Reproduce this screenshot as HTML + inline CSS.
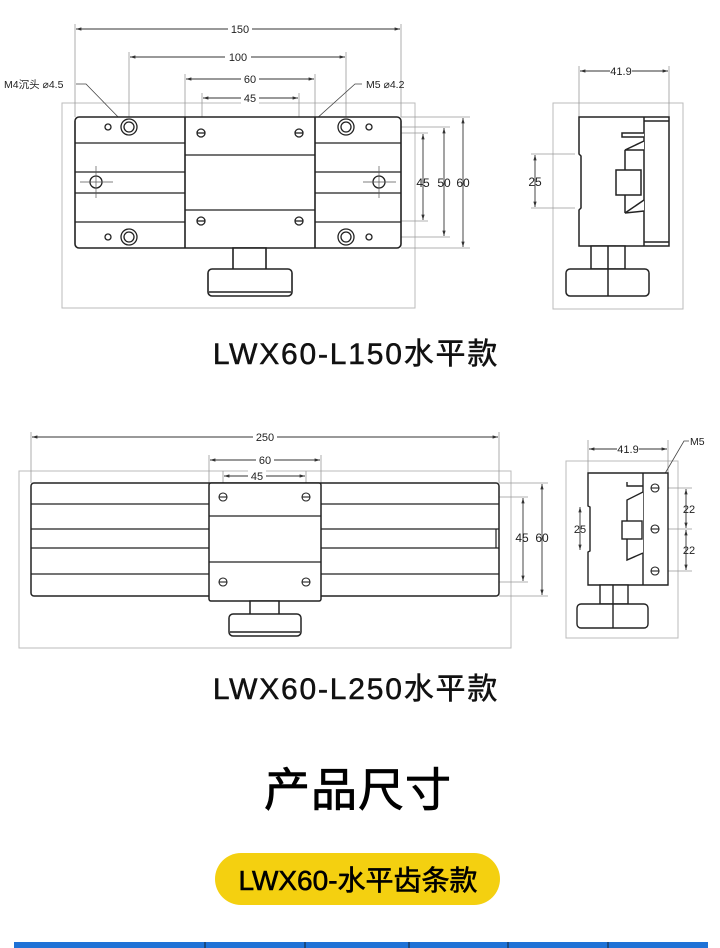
<!DOCTYPE html>
<html><head><meta charset="utf-8"><style>
html,body{margin:0;padding:0;background:#fff;}
svg{display:block;}
text{font-family:"Liberation Sans","DejaVu Sans",sans-serif;fill:#222;}
.cjk{font-family:"Liberation Sans","Noto Sans CJK SC",sans-serif;}
</style></head><body>
<svg width="720" height="948" viewBox="0 0 720 948" xmlns="http://www.w3.org/2000/svg">
<defs>
<marker id="a" viewBox="0 0 10 10" refX="10" refY="5" markerWidth="6" markerHeight="6" orient="auto-start-reverse"><path d="M0,2 L10,5 L0,8 z" fill="#333"/></marker>
</defs>
<!-- ===== TOP DRAWING ===== -->
<g stroke="#bbb" fill="none" stroke-width="1">
<rect x="62" y="103" width="353" height="205"/>
<rect x="553" y="103" width="130" height="206"/>
</g>
<g stroke="#999" stroke-width="0.8" fill="none">
<line x1="75" y1="24" x2="75" y2="117"/><line x1="401" y1="24" x2="401" y2="117"/>
<line x1="129" y1="52" x2="129" y2="120"/><line x1="346" y1="52" x2="346" y2="120"/>
<line x1="185" y1="74" x2="185" y2="117"/><line x1="315" y1="74" x2="315" y2="117"/>
<line x1="202" y1="93" x2="202" y2="128"/><line x1="299" y1="93" x2="299" y2="128"/>
<line x1="401" y1="117" x2="470" y2="117"/><line x1="401" y1="248" x2="470" y2="248"/>
<line x1="372" y1="127" x2="450" y2="127"/><line x1="372" y1="237" x2="450" y2="237"/>
<line x1="304" y1="133" x2="428" y2="133"/><line x1="304" y1="221" x2="428" y2="221"/>
<line x1="579" y1="66" x2="579" y2="117"/><line x1="669" y1="66" x2="669" y2="117"/>
<line x1="531" y1="154" x2="575" y2="154"/><line x1="531" y1="208" x2="575" y2="208"/>
</g>
<g stroke="#333" stroke-width="0.9" marker-start="url(#a)" marker-end="url(#a)">
<line x1="76" y1="29" x2="400" y2="29"/>
<line x1="130" y1="57" x2="345" y2="57"/>
<line x1="186" y1="79" x2="314" y2="79"/>
<line x1="203" y1="98" x2="298" y2="98"/>
<line x1="423" y1="134" x2="423" y2="220"/>
<line x1="444" y1="128" x2="444" y2="236"/>
<line x1="463" y1="118" x2="463" y2="247"/>
<line x1="580" y1="71" x2="668" y2="71"/>
<line x1="535" y1="155" x2="535" y2="207"/>
</g>
<g font-size="11" text-anchor="middle">
<rect x="228" y="22" width="24" height="13" fill="#fff"/><text x="240" y="33">150</text>
<rect x="225" y="50" width="26" height="13" fill="#fff"/><text x="238" y="61">100</text>
<rect x="241" y="72" width="18" height="13" fill="#fff"/><text x="250" y="83">60</text>
<rect x="241" y="91" width="18" height="13" fill="#fff"/><text x="250" y="102">45</text>
<text x="423" y="187" font-size="12">45</text>
<text x="444" y="187" font-size="12">50</text>
<text x="463" y="187" font-size="12">60</text>
<rect x="610" y="64" width="22" height="13" fill="#fff"/><text x="621" y="75">41.9</text>
<text x="535" y="186" font-size="12">25</text>
</g>
<text x="4" y="88" font-size="10.5" class="cjk">M4沉头 ⌀4.5</text>
<text x="366" y="88" font-size="10.5">M5 ⌀4.2</text>
<g stroke="#444" stroke-width="0.8" fill="none">
<polyline points="76,84 86,84 122,121"/>
<polyline points="362,84 355,84 305,129"/>
</g>
<g stroke="#222" stroke-width="1.6" fill="#fff">
<rect x="75" y="117" width="326" height="131" rx="4"/>
<line x1="185" y1="117" x2="185" y2="248"/><line x1="315" y1="117" x2="315" y2="248"/>
<rect x="233" y="248" width="33" height="22"/>
<rect x="208" y="269" width="84" height="27" rx="4"/>
<line x1="209" y1="292" x2="291" y2="292"/>
</g>
<g stroke="#222" stroke-width="1.2">
<line x1="75" y1="143" x2="185" y2="143"/><line x1="75" y1="172" x2="185" y2="172"/><line x1="75" y1="193" x2="185" y2="193"/><line x1="75" y1="222" x2="185" y2="222"/>
<line x1="315" y1="143" x2="401" y2="143"/><line x1="315" y1="172" x2="401" y2="172"/><line x1="315" y1="193" x2="401" y2="193"/><line x1="315" y1="222" x2="401" y2="222"/>
<line x1="185" y1="155" x2="315" y2="155"/><line x1="185" y1="210" x2="315" y2="210"/>
</g>
<g stroke="#222" stroke-width="1.3" fill="none">
<circle cx="129" cy="127" r="8"/><circle cx="129" cy="127" r="5"/>
<circle cx="129" cy="237" r="8"/><circle cx="129" cy="237" r="5"/>
<circle cx="346" cy="127" r="8"/><circle cx="346" cy="127" r="5"/>
<circle cx="346" cy="237" r="8"/><circle cx="346" cy="237" r="5"/>
<circle cx="108" cy="127" r="3"/><circle cx="108" cy="237" r="3"/>
<circle cx="369" cy="127" r="3"/><circle cx="369" cy="237" r="3"/>
<circle cx="201" cy="133" r="4"/><circle cx="299" cy="133" r="4"/>
<circle cx="201" cy="221" r="4"/><circle cx="299" cy="221" r="4"/>
<line x1="197" y1="133" x2="205" y2="133"/><line x1="295" y1="133" x2="303" y2="133"/>
<line x1="197" y1="221" x2="205" y2="221"/><line x1="295" y1="221" x2="303" y2="221"/>
<circle cx="96" cy="182" r="6"/><circle cx="379" cy="182" r="6"/>
</g>
<g stroke="#555" stroke-width="0.7">
<line x1="80" y1="182" x2="113" y2="182"/><line x1="96" y1="166" x2="96" y2="198"/>
<line x1="363" y1="182" x2="396" y2="182"/><line x1="379" y1="166" x2="379" y2="198"/>
</g>
<!-- top side view -->
<g stroke="#222" stroke-width="1.5" fill="#fff">
<path d="M579,117 H669 V246 H579 V210 L581,208 V156 L579,154 Z"/>
<line x1="644" y1="117" x2="644" y2="246"/>
<line x1="644" y1="121" x2="669" y2="121"/><line x1="644" y1="242" x2="669" y2="242"/>
<path d="M644,137 H622 V133 H644"/>
<path d="M644,141 L625,150 H644 M644,200 L625,213 L644,211"/>
<line x1="625" y1="150" x2="625" y2="213"/>
<rect x="616" y="170" width="25" height="25"/>
<rect x="591" y="246" width="34" height="23"/>
<rect x="566" y="269" width="83" height="27" rx="4"/>
<line x1="608" y1="246" x2="608" y2="296"/>
</g>
<text x="356" y="364" font-size="30" text-anchor="middle" class="cjk" letter-spacing="1.8" stroke="#111" stroke-width="0.5" style="fill:#111">LWX60-L150水平款</text>

<!-- ===== BOTTOM DRAWING ===== -->
<g stroke="#bbb" fill="none" stroke-width="1">
<rect x="19" y="471" width="492" height="177"/>
<rect x="566" y="461" width="112" height="177"/>
</g>
<g stroke="#999" stroke-width="0.8" fill="none">
<line x1="31" y1="432" x2="31" y2="483"/><line x1="499" y1="432" x2="499" y2="483"/>
<line x1="209" y1="455" x2="209" y2="483"/><line x1="321" y1="455" x2="321" y2="483"/>
<line x1="223" y1="471" x2="223" y2="492"/><line x1="306" y1="471" x2="306" y2="492"/>
<line x1="499" y1="483" x2="548" y2="483"/><line x1="499" y1="596" x2="548" y2="596"/>
<line x1="310" y1="497" x2="528" y2="497"/><line x1="310" y1="582" x2="528" y2="582"/>
<polyline points="477,538 477,520 497,520"/>
<line x1="588" y1="440" x2="588" y2="473"/><line x1="668" y1="440" x2="668" y2="473"/>
<line x1="659" y1="488" x2="692" y2="488"/><line x1="659" y1="529" x2="692" y2="529"/><line x1="659" y1="571" x2="692" y2="571"/>
<polyline points="643,508 620,508 620,520"/>
</g>
<g stroke="#333" stroke-width="0.9" marker-start="url(#a)" marker-end="url(#a)">
<line x1="32" y1="437" x2="498" y2="437"/>
<line x1="210" y1="460" x2="320" y2="460"/>
<line x1="224" y1="476" x2="305" y2="476"/>
<line x1="523" y1="498" x2="523" y2="581"/>
<line x1="542" y1="484" x2="542" y2="595"/>
<line x1="589" y1="449" x2="667" y2="449"/>
<line x1="580" y1="507" x2="580" y2="550"/>
<line x1="686" y1="489" x2="686" y2="528"/>
<line x1="686" y1="530" x2="686" y2="570"/>
</g>
<g stroke="#333" stroke-width="0.9" marker-end="url(#a)">
<line x1="477" y1="538" x2="458" y2="538"/>
</g>
<g font-size="11" text-anchor="middle">
<rect x="253" y="430" width="24" height="13" fill="#fff"/><text x="265" y="441">250</text>
<rect x="256" y="453" width="18" height="13" fill="#fff"/><text x="265" y="464">60</text>
<rect x="248" y="469" width="18" height="13" fill="#fff"/><text x="257" y="480">45</text>
<text x="522" y="542" font-size="12">45</text>
<text x="542" y="542" font-size="12">60</text>
<text x="451" y="542" font-size="11">Y</text>
<rect x="617" y="442" width="22" height="13" fill="#fff"/><text x="628" y="453">41.9</text>
<text x="580" y="533" font-size="11">25</text>
<text x="689" y="513" font-size="11">22</text>
<text x="689" y="554" font-size="11">22</text>
<text x="616" y="533" font-size="11">Z</text>
</g>
<text x="690" y="445" font-size="10.5">M5</text>
<polyline points="689,441 684,441 660,482" stroke="#444" stroke-width="0.8" fill="none"/>
<g stroke="#222" stroke-width="1.5" fill="#fff">
<rect x="31" y="483" width="468" height="113" rx="3"/>
<rect x="209" y="483" width="112" height="118" rx="2"/>
<rect x="250" y="601" width="29" height="14"/>
<rect x="229" y="614" width="72" height="22" rx="4"/>
<line x1="230" y1="632" x2="300" y2="632"/>
</g>
<g stroke="#222" stroke-width="1.2">
<line x1="31" y1="504" x2="209" y2="504"/><line x1="31" y1="529" x2="209" y2="529"/><line x1="31" y1="548" x2="209" y2="548"/><line x1="31" y1="574" x2="209" y2="574"/>
<line x1="321" y1="504" x2="499" y2="504"/><line x1="321" y1="529" x2="499" y2="529"/><line x1="321" y1="548" x2="499" y2="548"/><line x1="321" y1="574" x2="499" y2="574"/>
<line x1="209" y1="516" x2="321" y2="516"/><line x1="209" y1="562" x2="321" y2="562"/>
<line x1="496" y1="529" x2="496" y2="548"/>
</g>
<g stroke="#222" stroke-width="1.1" fill="none">
<circle cx="223" cy="497" r="4"/><circle cx="306" cy="497" r="4"/>
<circle cx="223" cy="582" r="4"/><circle cx="306" cy="582" r="4"/>
<line x1="219" y1="497" x2="227" y2="497"/><line x1="302" y1="497" x2="310" y2="497"/>
<line x1="219" y1="582" x2="227" y2="582"/><line x1="302" y1="582" x2="310" y2="582"/>
</g>
<!-- bottom side view -->
<g stroke="#222" stroke-width="1.4" fill="#fff">
<path d="M588,473 H668 V585 H588 V552 L590,551 V507 L588,506 Z"/>
<line x1="643" y1="473" x2="643" y2="585"/>
<path d="M643,486 H627 V482"/>
<path d="M643,492 L627,500 V560 L643,553"/>
<rect x="622" y="521" width="20" height="18"/>
<rect x="600" y="585" width="28" height="19"/>
<rect x="577" y="604" width="71" height="24" rx="4"/>
<line x1="613" y1="585" x2="613" y2="628"/>
</g>
<g stroke="#222" stroke-width="1.1" fill="none">
<circle cx="655" cy="488" r="4"/><circle cx="655" cy="529" r="4"/><circle cx="655" cy="571" r="4"/>
<line x1="651" y1="488" x2="659" y2="488"/><line x1="651" y1="529" x2="659" y2="529"/><line x1="651" y1="571" x2="659" y2="571"/>
</g>
<text x="356" y="699" font-size="30" text-anchor="middle" class="cjk" letter-spacing="1.8" stroke="#111" stroke-width="0.5" style="fill:#111">LWX60-L250水平款</text>

<text x="358" y="806" font-size="46" text-anchor="middle" class="cjk" stroke="#000" stroke-width="0.8" style="fill:#000" letter-spacing="1">产品尺寸</text>

<rect x="215" y="853" width="285" height="52" rx="26" fill="#f4d010"/>
<text x="358" y="890" font-size="28" text-anchor="middle" class="cjk" stroke="#000" stroke-width="0.6" style="fill:#000">LWX60-水平齿条款</text>

<rect x="14" y="942" width="694" height="6" fill="#1f72d6"/>
<g stroke="#123" stroke-width="1">
<line x1="205" y1="942" x2="205" y2="948"/><line x1="305" y1="942" x2="305" y2="948"/><line x1="409" y1="942" x2="409" y2="948"/><line x1="508" y1="942" x2="508" y2="948"/><line x1="608" y1="942" x2="608" y2="948"/>
</g>
</svg>
</body></html>
